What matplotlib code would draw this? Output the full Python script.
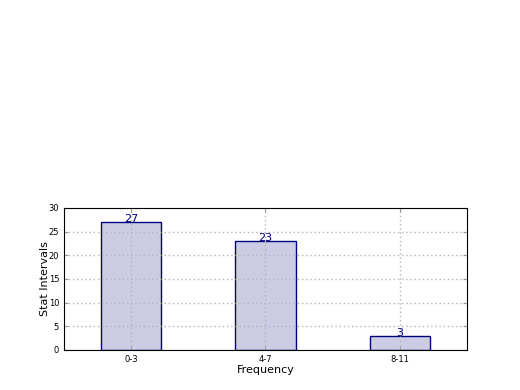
import matplotlib
matplotlib.use('Agg')
import matplotlib.pyplot as plt

categories = ['0-3', '4-7', '8-11']
counts = [27, 23, 3]

fig = plt.figure(figsize=(5.2, 3.9), dpi=100)
ax = fig.add_axes([0.123, 0.1026, 0.775, 0.3641])

pos = range(len(categories))
ax.bar(pos, counts, width=0.45, color='navy', alpha=0.2, edgecolor='none')
ax.bar(pos, counts, width=0.45, color='none', edgecolor='navy', linewidth=1)

for p, c in zip(pos, counts):
    ax.text(p, c, str(c), ha='center', va='baseline', color='navy', fontsize=8)

ax.set_xlim(-0.5, 2.5)
ax.set_ylim(0, 30)
ax.set_yticks([0, 5, 10, 15, 20, 25, 30])
ax.set_xticks(list(pos))
ax.set_xticklabels(categories)
ax.tick_params(axis='both', which='major', labelsize=6, direction='in',
               top=True, right=True, length=3, color='#999999')
ax.grid(True, linestyle=(0, (1, 2)), color='#b5b5b5', linewidth=1)
ax.set_xlabel('Frequency', fontsize=8, labelpad=1)
ax.set_ylabel('Stat Intervals', fontsize=8, labelpad=-1)

fig.savefig('out.png', dpi=100)
